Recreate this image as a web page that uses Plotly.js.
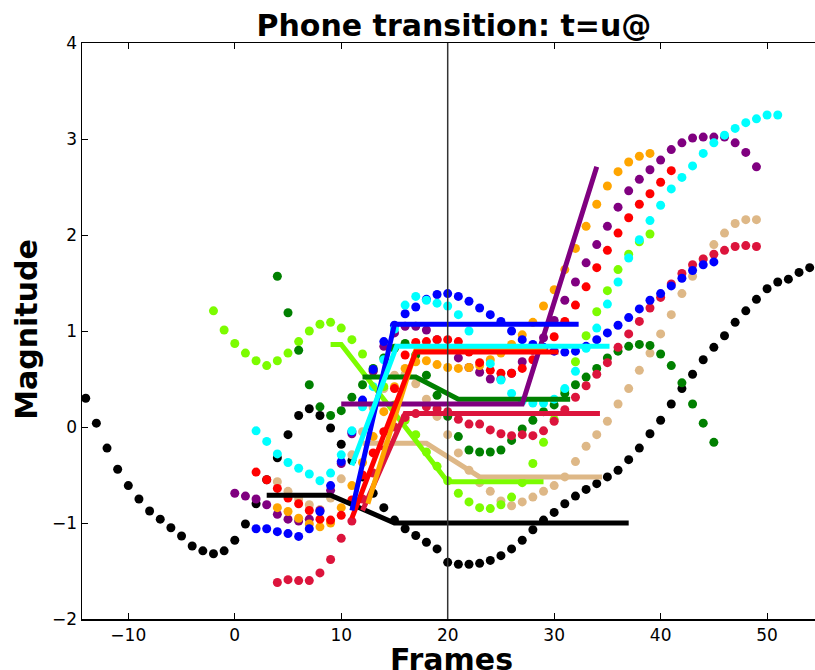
<!DOCTYPE html>
<html><head><meta charset="utf-8">
<script src="https://cdn.plot.ly/plotly-3.0.1.min.js"></script>
<style>html,body{margin:0;padding:0;background:#fff}</style>
</head><body><div id="chart" style="width:815px;height:670px"></div>
<script>
// ---- data (frame index start + magnitudes per frame) ----
const blackStart = -14;
const blackVals = [0.30,0.04,-0.22,-0.44,-0.61,-0.75,-0.875,-0.96,-1.05,-1.135,-1.24,-1.29,-1.32,-1.29,-1.18,-1.01,-0.80,-0.55,-0.32,-0.08,0.12,0.19,0.12,-0.01,-0.18,-0.35,-0.52,-0.69,-0.84,-0.97,-1.06,-1.13,-1.20,-1.27,-1.41,-1.43,-1.43,-1.42,-1.39,-1.34,-1.27,-1.18,-1.07,-0.97,-0.89,-0.80,-0.72,-0.65,-0.59,-0.52,-0.45,-0.34,-0.22,-0.07,0.07,0.24,0.40,0.55,0.70,0.83,0.95,1.09,1.21,1.33,1.44,1.51,1.54,1.61,1.66];
const blueStart = 2;
const blueVals = [-1.06,-1.06,-1.09,-1.11,-1.14,-1.06,-0.88,-0.61,-0.36,-0.05,0.28,0.60,0.89,1.06,1.18,1.25,1.33,1.38,1.39,1.36,1.31,1.24,1.17,1.10,1.00,0.91,0.86,0.83,0.79,0.78,0.79,0.84,0.91,0.98,1.06,1.14,1.23,1.32,1.39,1.47,1.55,1.63,1.69,1.72];
const cyanStart = 2;
const cyanVals = [-0.04,-0.15,-0.28,-0.37,-0.43,-0.49,-0.56,-0.48,-0.29,-0.04,0.21,0.42,0.70,1.02,1.27,1.36,1.32,1.29,1.26,1.17,1.00,0.81,0.66,0.49,0.35,0.27,0.25,0.25,0.29,0.40,0.58,0.82,1.03,1.28,1.51,1.76,1.95,2.15,2.31,2.48,2.60,2.72,2.85,2.96,3.04,3.11,3.17,3.21,3.25,3.25];
const redStart = 2;
const redVals = [-0.47,-0.55,-0.64,-0.74,-0.80,-0.87,-0.96,-0.97,-0.92,-0.76,-0.50,-0.27,-0.05,0.40,0.75,0.88,0.89,0.91,0.91,0.89,0.78,0.67,0.59,0.56,0.56,0.61,0.70,0.82,0.94,1.10,1.27,1.46,1.66,1.84,2.02,2.18,2.32,2.43,2.55,2.67];
const orangeStart = 4;
const orangeVals = [-0.84,-0.88,-0.95,-1.01,-1.04,-1.00,-0.84,-0.61,-0.37,-0.10,0.16,0.42,0.61,0.68,0.69,0.65,0.62,0.61,0.62,0.64,0.70,0.77,0.86,0.96,1.09,1.26,1.43,1.64,1.86,2.09,2.32,2.51,2.66,2.76,2.82,2.85];
const crimsonStart = 4;
const crimsonVals = [-1.62,-1.59,-1.60,-1.60,-1.52,-1.38,-1.16,-0.98,-0.75,-0.48,-0.20,0.00,0.10,0.14,0.21,0.19,0.16,0.08,0.03,0.03,-0.03,-0.07,-0.09,-0.08,-0.09,-0.04,0.06,0.18,0.31,0.43,0.55,0.67,0.83,0.97,1.10,1.24,1.35,1.49,1.60,1.69,1.75,1.80,1.84,1.88,1.89,1.88];
const purpleStart = 0;
const purpleVals = [-0.69,-0.72,-0.75,-0.81,-0.91,-0.96,-0.98,-0.96,-0.87,-0.66,-0.38,-0.07,0.26,0.58,0.84,0.98,1.05,1.05,1.01,0.91,0.82,0.72,0.62,0.57,0.50,0.50,0.56,0.68,0.80,0.93,1.11,1.32,1.51,1.71,1.90,2.09,2.29,2.46,2.58,2.68,2.78,2.89,2.96,3.01,3.02,3.02,3.02,2.96,2.86,2.71];
const greenStart = 4;
const greenVals = [1.57,1.19,0.80,0.44,0.21,0.12,0.17,0.31,0.44,0.61,0.72,0.82,0.87,0.75,0.54,0.33,0.11,-0.10,-0.24,-0.26,-0.26,-0.24,-0.14,-0.02,0.07,0.16,0.23,0.35,0.44,0.52,0.61,0.72,0.79,0.84,0.86,0.85,0.76,0.64,0.46,0.24,0.04,-0.16];
const lawnStart = -2;
const lawnVals = [1.21,1.01,0.87,0.77,0.69,0.64,0.69,0.77,0.89,1.00,1.07,1.09,1.03,0.91,0.76,0.59,0.42,0.23,0.07,-0.08,-0.26,-0.41,-0.56,-0.69,-0.78,-0.84,-0.85,-0.81,-0.73,-0.58,-0.38,-0.16,0.08,0.38,0.68,0.95,1.20,1.42,1.64,1.80,1.93,2.01];
const tanStart = 4;
const tanVals = [-0.57,-0.67,-0.75,-0.81,-0.86,-0.74,-0.54,-0.29,-0.05,0.20,0.40,0.54,0.55,0.45,0.29,0.11,-0.08,-0.27,-0.45,-0.58,-0.67,-0.77,-0.82,-0.78,-0.73,-0.67,-0.61,-0.52,-0.36,-0.20,-0.08,0.06,0.24,0.40,0.59,0.77,0.97,1.17,1.39,1.57,1.75,1.90,2.02,2.12,2.16,2.16];

// piecewise-linear fitted transitions (breakpoint frames / magnitudes)
const blackLineX = [3,9,15,37],        blackLineY = [-0.71,-0.71,-1.0,-1.0];
const tanLineX = [12,18,23,34.5],      tanLineY = [-0.17,-0.17,-0.52,-0.52];
const lawnLineX = [9,10,20,29],        lawnLineY = [0.86,0.86,-0.57,-0.57];
const greenLineX = [12,17,21,31.5],    greenLineY = [0.52,0.52,0.29,0.29];
const purpleLineX = [10,27,34],        purpleLineY = [0.24,0.24,2.71];
const crimsonLineX = [12,16,34.3],     crimsonLineY = [-0.87,0.14,0.14];
const orangeLineX = [12.5,17,29.3],    orangeLineY = [-0.80,0.80,0.80];
const redLineX = [11,17,30.4],         redLineY = [-0.95,0.78,0.78];
const blueLineX = [11,15,32.3],        blueLineY = [-0.87,1.07,1.07];
const cyanLineX = [11,15.2,35.2],      cyanLineY = [-0.40,0.84,0.84];

const xTicks = [-10,0,10,20,30,40,50];
const yTicks = [-2,-1,0,1,2,3,4];
const markerFrame = 20;

// ---- build ----
function frames(start, n){ const a=[]; for(let i=0;i<n;i++) a.push(start+i); return a; }
const dotSeries = [
  ['black', blackStart, blackVals],
  ['#deb887', tanStart, tanVals],
  ['#7cfc00', lawnStart, lawnVals],
  ['#008000', greenStart, greenVals],
  ['#800080', purpleStart, purpleVals],
  ['#dc143c', crimsonStart, crimsonVals],
  ['#ffa500', orangeStart, orangeVals],
  ['#ff0000', redStart, redVals],
  ['#0000ff', blueStart, blueVals],
  ['#00ffff', cyanStart, cyanVals]
];
const lineSeries = [
  ['black', blackLineX, blackLineY],
  ['#deb887', tanLineX, tanLineY],
  ['#7cfc00', lawnLineX, lawnLineY],
  ['#008000', greenLineX, greenLineY],
  ['#800080', purpleLineX, purpleLineY],
  ['#dc143c', crimsonLineX, crimsonLineY],
  ['#ffa500', orangeLineX, orangeLineY],
  ['#ff0000', redLineX, redLineY],
  ['#0000ff', blueLineX, blueLineY],
  ['#00ffff', cyanLineX, cyanLineY]
];
const traces = [];
dotSeries.forEach(([c,s,v])=>traces.push({type:'scatter',mode:'markers',x:frames(s,v.length),y:v,
  marker:{color:c,size:9,line:{width:0}},hoverinfo:'skip'}));
lineSeries.forEach(([c,x,y])=>traces.push({type:'scatter',mode:'lines',x:x,y:y,
  line:{color:c,width:5},hoverinfo:'skip'}));

const FONT = 'DejaVu Sans, sans-serif';
const layout = {
  width:815, height:670,
  margin:{l:82,r:0,t:43,b:51,pad:0},
  paper_bgcolor:'#fff', plot_bgcolor:'#fff',
  showlegend:false,
  title:{text:'<b>Phone transition: t=u@</b>', font:{family:FONT,size:30,color:'#000'},
    xref:'container', x:0.557, xanchor:'center', yref:'container', y:0.962, yanchor:'middle'},
  xaxis:{range:[-14.35,54.5], tickvals:xTicks, ticks:'inside', ticklen:6, tickwidth:1, tickcolor:'#000',
    showline:true, linecolor:'#000', linewidth:1.5, mirror:'allticks', showgrid:false, zeroline:false,
    tickfont:{family:FONT,size:17,color:'#000'}},
  yaxis:{range:[-2,4], tickvals:yTicks, ticks:'inside', ticklen:6, tickwidth:1, tickcolor:'#000',
    showline:true, linecolor:'#000', linewidth:1.5, mirror:false, showgrid:false, zeroline:false,
    tickfont:{family:FONT,size:17,color:'#000'}},
  annotations:[
    {text:'<b>Frames</b>', xref:'paper', yref:'paper', x:0.504, y:0, xanchor:'center', yanchor:'top',
     yshift:-21, showarrow:false, font:{family:FONT,size:30,color:'#000'}},
    {text:'<b>Magnitude</b>', xref:'paper', yref:'paper', x:0, y:0.502, xanchor:'center', yanchor:'middle',
     xshift:-55, textangle:-90, showarrow:false, font:{family:FONT,size:30,color:'#000'}}
  ],
  shapes:[{type:'line', xref:'x', yref:'paper', x0:markerFrame, x1:markerFrame, y0:0, y1:1,
    line:{color:'#333', width:1.5}, layer:'above'}]
};
Plotly.newPlot('chart', traces, layout, {staticPlot:true, displayModeBar:false});
</script></body></html>
